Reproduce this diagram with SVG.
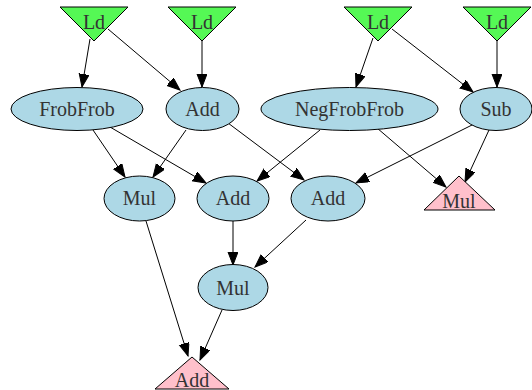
<svg xmlns="http://www.w3.org/2000/svg" width="532" height="390" viewBox="0 0 532 390">
<style>
.n{stroke:#000;stroke-width:1}
.ld{fill:#55f855}
.op{fill:#add8e6}
.out{fill:#ffc0cb}
text{font-family:"Liberation Serif","DejaVu Serif",serif;font-size:20px;fill:#333;text-anchor:middle}
.e line{stroke:#000;stroke-width:1;marker-end:url(#ah)}
</style>
<defs>
<marker id="ah" markerUnits="userSpaceOnUse" markerWidth="15" markerHeight="12" refX="13" refY="5" orient="auto">
<path d="M0,0 L13,5 L0,10 Z" fill="#000" stroke="#000" stroke-width="1"/>
</marker>
</defs>
<g class="e">
<line x1="90" y1="39" x2="82" y2="87"/>
<line x1="108" y1="29" x2="180" y2="90"/>
<line x1="202" y1="41" x2="202" y2="87"/>
<line x1="373" y1="38" x2="356" y2="87"/>
<line x1="392" y1="29" x2="473" y2="92"/>
<line x1="497" y1="41" x2="497" y2="87"/>
<line x1="93" y1="130" x2="125" y2="177"/>
<line x1="110" y1="127" x2="206" y2="183"/>
<line x1="186" y1="130" x2="153" y2="177"/>
<line x1="228" y1="123" x2="304" y2="180"/>
<line x1="320" y1="130" x2="257" y2="181"/>
<line x1="377" y1="128" x2="446" y2="187"/>
<line x1="474" y1="124" x2="356" y2="183"/>
<line x1="489" y1="130" x2="465" y2="182"/>
<line x1="146" y1="221" x2="188" y2="356"/>
<line x1="233" y1="221" x2="233" y2="265"/>
<line x1="306" y1="220" x2="255" y2="267"/>
<line x1="222" y1="310" x2="200" y2="360"/>
</g>
<g id="ld1"><polygon class="n ld" points="60,7 128,7 94,41"/><text x="94" y="29">Ld</text></g>
<g id="ld2"><polygon class="n ld" points="168,7 236,7 202,41"/><text x="202" y="29">Ld</text></g>
<g id="ld3"><polygon class="n ld" points="344,7 412,7 378,41"/><text x="378" y="29">Ld</text></g>
<g id="ld4"><polygon class="n ld" points="463,7 531,7 497,41"/><text x="497" y="29">Ld</text></g>
<g id="frobfrob"><ellipse class="n op" cx="77" cy="109" rx="66" ry="21.5"/><text x="77" y="116">FrobFrob</text></g>
<g id="add1"><ellipse class="n op" cx="202.5" cy="109" rx="36.5" ry="21.5"/><text x="202.5" y="116">Add</text></g>
<g id="negfrobfrob"><ellipse class="n op" cx="349.5" cy="109" rx="88.5" ry="21.5"/><text x="349.5" y="116">NegFrobFrob</text></g>
<g id="sub"><ellipse class="n op" cx="496" cy="109" rx="36" ry="21.5"/><text x="496" y="116">Sub</text></g>
<g id="mul1"><ellipse class="n op" cx="139.5" cy="198.5" rx="35.5" ry="22.5"/><text x="139.5" y="205">Mul</text></g>
<g id="add2"><ellipse class="n op" cx="233" cy="198.5" rx="36" ry="22.5"/><text x="233" y="205">Add</text></g>
<g id="add3"><ellipse class="n op" cx="328" cy="198.5" rx="37" ry="22.5"/><text x="328" y="205">Add</text></g>
<g id="mulout"><polygon class="n out" points="459,176 495,210 424,210"/><text x="459" y="208">Mul</text></g>
<g id="mul2"><ellipse class="n op" cx="233" cy="287.5" rx="35" ry="23"/><text x="233" y="295">Mul</text></g>
<g id="addout"><polygon class="n out" points="192,357 229,389 155,389"/><text x="192" y="387">Add</text></g>
</svg>
